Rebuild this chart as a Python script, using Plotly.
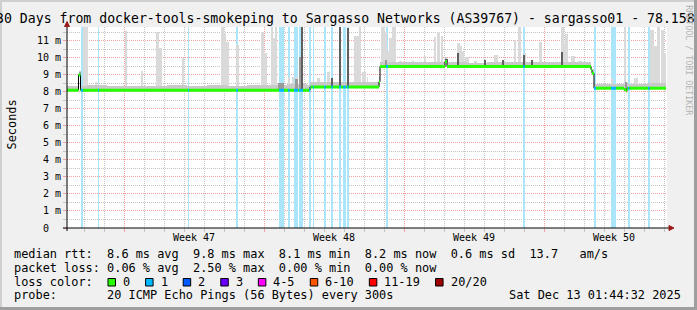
import bisect
import plotly.graph_objects as go

# ---------------- data (time = days since start of the 30-day window, values in ms) ----------------
week_starts = [2.865, 9.865, 16.865, 23.865]
week_centers = [6.365, 13.365, 20.365, 27.365]
week_labels = ["Week 47", "Week 48", "Week 49", "Week 50"]
first_midnight = 0.865

y_tick_vals = [0, 1, 2, 3, 4, 5, 6, 7, 8, 9, 10, 11]
y_tick_text = ["0\u00a0\u00a0", "1 m", "2 m", "3 m", "4 m", "5 m", "6 m", "7 m", "8 m", "9 m", "10 m", "11 m"]

# median rtt, step function
med_t = [0.0, 0.575, 0.675, 12.15, 15.60, 15.65, 18.90, 19.00, 26.20, 26.25, 26.35, 27.85, 27.95, 28.00]
med_v = [8.10, 9.00, 8.10, 8.29, 8.60, 9.49, 9.78, 9.49, 9.30, 9.10, 8.22, 8.14, 8.06, 8.22]
med_end = 29.95

# packet loss periods
loss_t0 = [0.70, 1.55, 6.05, 8.45, 10.60, 11.05, 11.35, 11.60, 12.10, 12.30, 12.85,
           13.225, 13.60, 13.815, 14.00, 15.95, 22.80, 26.35, 27.20, 28.05, 29.05]
loss_t1 = [0.80, 1.60, 6.10, 8.55, 10.85, 11.125, 11.55, 11.80, 12.175, 12.35, 12.925,
           13.30, 13.70, 13.94, 14.075, 16.05, 22.875, 26.45, 27.45, 28.115, 29.125]
loss_n = [1, 1, 1, 1, 1, 1, 1, 1, 1, 1, 1, 1, 1, 1, 1, 1, 1, 1, 1, 1, 1]

# typical smoke spread above the median, per day
smoke_day = [0.25, 0.30, 0.25, 0.28, 0.25, 0.30, 0.28, 0.30, 0.28, 0.30,
             0.32, 0.38, 0.30, 0.30, 0.32, 0.30, 0.30, 0.25, 0.25, 0.25,
             0.22, 0.25, 0.25, 0.25, 0.28, 0.30, 0.25, 0.25, 0.25, 0.28]

# outlier smoke (light)
spike_t0 = [0.80, 1.40, 2.875, 3.70, 4.45, 4.575, 5.725, 7.70, 7.825, 7.925, 8.45, 9.675, 9.85,
            10.175, 10.30, 10.40, 11.05, 11.25, 11.40, 12.50, 13.00, 14.35, 14.60, 14.75, 15.00,
            15.45, 15.70, 15.85, 15.975, 16.10, 16.25, 16.60, 17.25, 17.825, 18.325, 18.50, 18.675,
            19.50, 19.625, 19.75, 19.90, 20.35, 21.35, 22.35, 22.55, 22.85, 23.60, 23.875, 24.675,
            24.825, 24.90, 25.20, 25.525, 25.85, 27.225, 27.825, 28.35, 28.825, 29.15, 29.35, 29.50,
            29.675, 29.825]
spike_t1 = [1.025, 1.475, 2.975, 3.80, 4.575, 4.725, 5.85, 7.825, 7.925, 8.10, 8.575, 9.825, 9.975,
            10.30, 10.40, 10.50, 11.15, 11.35, 11.55, 12.65, 13.125, 14.60, 14.70, 14.95, 15.05,
            15.525, 15.85, 15.975, 16.10, 16.225, 16.45, 16.75, 17.35, 17.925, 18.425, 18.625, 18.80,
            19.625, 19.75, 19.825, 20.10, 20.50, 21.525, 22.45, 22.70, 22.95, 23.725, 23.95, 24.825,
            24.90, 25.025, 25.40, 25.725, 26.025, 27.30, 27.95, 28.525, 28.90, 29.35, 29.50, 29.625,
            29.825, 29.95]
spike_top = [12.0, 8.6, 11.6, 9.25, 11.5, 10.6, 10.0, 12.0, 11.4, 10.95, 10.75, 11.5, 10.3,
             12.0, 11.2, 12.0, 8.9, 8.9, 8.9, 8.8, 9.2, 11.3, 12.0, 9.2, 8.9,
             8.6, 12.0, 11.5, 10.4, 11.15, 12.0, 9.8, 9.8, 10.1, 11.25, 11.55, 11.3,
             10.85, 10.7, 10.4, 10.05, 9.8, 10.2, 11.05, 12.0, 10.3, 10.95, 9.7, 12.0,
             10.9, 11.4, 10.1, 9.8, 9.7, 8.8, 12.0, 8.8, 8.5, 11.65, 10.7, 12.0,
             11.65, 10.3]

# denser smoke (mid / dark shades)
dark_t0 = [0.575, 10.55, 11.40, 11.60, 11.70, 13.20, 13.60, 14.00, 15.90, 18.90, 19.525,
           20.85, 21.775, 22.80, 23.20, 24.675, 27.90]
dark_t1 = [0.675, 10.85, 11.55, 11.70, 11.80, 13.30, 13.70, 14.075, 16.00, 19.025, 19.60,
           20.95, 21.85, 22.875, 23.30, 24.775, 28.00]
dark_top = [9.2, 8.5, 8.75, 10.05, 12.0, 8.8, 12.0, 11.75, 9.9, 9.95, 10.27,
            9.9, 9.9, 10.2, 9.9, 10.35, 8.6]
dark_shade = ["mid", "mid", "mid", "mid", "dark", "dark", "dark", "dark", "mid", "dark", "dark",
              "dark", "dark", "dark", "dark", "dark", "mid"]

# legend / statistics
stat_line1 = "median rtt:  8.6 ms avg  9.8 ms max  8.1 ms min  8.2 ms now  0.6 ms sd  13.7   am/s"
stat_line2 = "packet loss: 0.06 % avg  2.50 % max  0.00 % min  0.00 % now"
stat_line3 = "loss color:"
stat_line4 = "probe:       20 ICMP Echo Pings (56 Bytes) every 300s"
stamp = "Sat Dec 13 01:44:32 2025"
loss_labels = ["0", "1", "2", "3", "4-5", "6-10", "11-19", "20/20"]
loss_colors = ["#26ff00", "#00b8ff", "#0059ff", "#6a00ff", "#ff00ff", "#ff5500", "#ff0000", "#a10000"]
title_text = "30 Days from docker-tools-smokeping to Sargasso Networks (AS39767) - sargasso01 - 78.158"

# ---------------- layout constants ----------------
W, H = 697, 310
PL, PR, PT, PB = 67, 667, 27, 228
YMAX = 11.82
XMAX = 30.0
MONO = "DejaVu Sans Mono"
BAND = "#abe5fa"


def px(x):
    return (x - PL) / (PR - PL)


def py(y):
    return (PB - y) / (PB - PT)


def nb(s):
    return s.replace(" ", "\u00a0")


def med_at(t):
    i = bisect.bisect_right(med_t, t) - 1
    return med_v[max(i, 0)]


def loss_at(t):
    for a, b, n in zip(loss_t0, loss_t1, loss_n):
        if a <= t < b:
            return n
    return 0


fig = go.Figure()

# loss background bands
fig.add_trace(go.Bar(
    x=[(a + b) / 2 for a, b in zip(loss_t0, loss_t1)],
    width=[b - a for a, b in zip(loss_t0, loss_t1)],
    y=[YMAX for _ in loss_t0], base=[0 for _ in loss_t0],
    marker=dict(color=BAND, line=dict(width=0)), hoverinfo="skip"))

# light outlier smoke
bx, bw, bb, bh = [], [], [], []
for a, b, top in zip(spike_t0, spike_t1, spike_top):
    m = med_at((a + b) / 2)
    bx.append((a + b) / 2); bw.append(b - a); bb.append(m); bh.append(top - m)
fig.add_trace(go.Bar(x=bx, width=bw, base=bb, y=bh,
                     marker=dict(color="#dadada", line=dict(width=0)), hoverinfo="skip"))

# baseline smoke (split at median steps)
bx, bw, bb, bh = [], [], [], []
for k, off in enumerate(smoke_day):
    a, b = float(k), min(k + 1.0, med_end)
    cuts = [a] + [t for t in med_t if a < t < b] + [b]
    for c0, c1 in zip(cuts[:-1], cuts[1:]):
        m = med_at((c0 + c1) / 2)
        bx.append((c0 + c1) / 2); bw.append(c1 - c0); bb.append(m); bh.append(off)
fig.add_trace(go.Bar(x=bx, width=bw, base=bb, y=bh,
                     marker=dict(color="#c9c9c9", line=dict(width=0)), hoverinfo="skip"))

# mid / dark smoke
for shade, col in (("mid", "#9a9a9a"), ("dark", "#5f5f5f")):
    bx, bw, bb, bh = [], [], [], []
    for a, b, top, s in zip(dark_t0, dark_t1, dark_top, dark_shade):
        if s != shade:
            continue
        m = med_at((a + b) / 2)
        bx.append((a + b) / 2); bw.append(b - a); bb.append(m); bh.append(top - m)
    fig.add_trace(go.Bar(x=bx, width=bw, base=bb, y=bh,
                         marker=dict(color=col, line=dict(width=0)), hoverinfo="skip"))

# thin black median (shows the steps)
fig.add_trace(go.Scatter(x=med_t + [med_end], y=med_v + [med_v[-1]], mode="lines",
                         line=dict(color="#000000", width=1, shape="hv"), hoverinfo="skip"))

# thick loss-coloured median
edges = sorted(set(med_t + loss_t0 + loss_t1 + [med_end]))
edges = [e for e in edges if e <= med_end]
segs = {}
for a, b in zip(edges[:-1], edges[1:]):
    mid = (a + b) / 2
    n = loss_at(mid)
    xs, ys = segs.setdefault(n, ([], []))
    v = med_at(mid)
    xs += [a, b, None]
    ys += [v, v, None]
for n, (xs, ys) in segs.items():
    fig.add_trace(go.Scatter(x=xs, y=ys, mode="lines",
                             line=dict(color=loss_colors[min(n, 7)], width=3), hoverinfo="skip"))

grid_red = "#f7a0a0"
grid_gray = "#c4c4c4"
fig.update_layout(
    width=W, height=H, margin=dict(l=PL, r=W - PR, t=PT, b=H - PB, pad=0),
    paper_bgcolor="#f0f0f0", plot_bgcolor="#ffffff", showlegend=False,
    barmode="overlay", bargap=0,
    font=dict(family=MONO, color="#000000"),
    xaxis=dict(range=[0, XMAX], showline=False, zeroline=False,
               tickmode="array", tickvals=week_starts, showticklabels=False,
               showgrid=True, gridcolor=grid_red, griddash="1px,1px", gridwidth=1,
               ticks="outside", ticklen=3, tickcolor=grid_red,
               minor=dict(tickmode="linear", tick0=first_midnight, dtick=1, showgrid=True,
                          gridcolor=grid_gray, griddash="1px,1px", gridwidth=1,
                          ticks="outside", ticklen=3, tickcolor=grid_gray),
               fixedrange=True),
    yaxis=dict(range=[0, YMAX], showline=False, zeroline=False,
               tickmode="array", tickvals=y_tick_vals, ticktext=y_tick_text,
               tickfont=dict(family=MONO, size=10, color="#000000"),
               showgrid=True, gridcolor=grid_red, griddash="1px,1px", gridwidth=1,
               ticks="outside", ticklen=3, tickcolor=grid_red,
               minor=dict(tickmode="linear", tick0=0, dtick=0.5, showgrid=True,
                          gridcolor=grid_gray, griddash="1px,1px", gridwidth=1,
                          ticks="outside", ticklen=3, tickcolor=grid_gray),
               fixedrange=True),
)

ann = []


def text(xp, yp, s, size, xanchor="left", angle=0, color="#000000", xref="paper"):
    ann.append(dict(x=xp, y=yp, xref=xref, yref="paper", text=nb(s), showarrow=False,
                    xanchor=xanchor, yanchor="middle", textangle=angle,
                    borderpad=0, borderwidth=0,
                    font=dict(family=MONO, size=size, color=color)))


LS = 11.9          # legend font size
CW = 7.16          # legend character advance (px)
X0 = 14.2          # legend text left (px)

text(px(-4.5), py(18.4), title_text, 13.2)
text(px(11.5), py(125), "Seconds", LS, xanchor="center", angle=-90)
text(px(688.7), py(60), "RRDTOOL / TOBI OETIKER", 8.3, xanchor="center", angle=90, color="#b4b4b4")
for c, lab in zip(week_centers, week_labels):
    text(c, py(237.5), lab, 10, xanchor="center", xref="x")
text(px(X0), py(254.2), stat_line1, LS)
text(px(X0), py(267.6), stat_line2, LS)
text(px(X0), py(281.9), stat_line3, LS)
text(px(X0), py(295.2), stat_line4, LS)
text(px(681), py(295.2), stamp, LS, xanchor="right")

shapes = []
pos = 13.1
for lab, col in zip(loss_labels, loss_colors):
    sx = X0 + pos * CW
    shapes.append(dict(type="rect", xref="paper", yref="paper",
                       x0=px(sx), x1=px(sx + 7.5), y0=py(286), y1=py(278.5),
                       fillcolor=col, line=dict(color="#000000", width=1), layer="above"))
    lpos = pos + 2.1
    text(px(X0 + lpos * CW), py(281.9), lab, LS)
    pos = lpos + len(lab) + 2.15

# axes with arrows
shapes.append(dict(type="line", xref="paper", yref="paper", x0=px(63), x1=px(670), y0=py(228), y1=py(228),
                   line=dict(color="#000000", width=1), layer="above"))
shapes.append(dict(type="line", xref="paper", yref="paper", x0=px(67), x1=px(67), y0=py(231), y1=py(25),
                   line=dict(color="#000000", width=1), layer="above"))
shapes.append(dict(type="path", xref="paper", yref="paper",
                   path=f"M {px(669)},{py(225.5)} L {px(674)},{py(228)} L {px(669)},{py(230.5)} Z",
                   fillcolor="#9b1b1b", line=dict(color="#9b1b1b", width=1), layer="above"))
shapes.append(dict(type="path", xref="paper", yref="paper",
                   path=f"M {px(64.5)},{py(26.5)} L {px(67)},{py(21.5)} L {px(69.5)},{py(26.5)} Z",
                   fillcolor="#9b1b1b", line=dict(color="#9b1b1b", width=1), layer="above"))

# 3D frame
shapes.append(dict(type="rect", xref="paper", yref="paper", x0=px(0), x1=px(697), y0=py(0), y1=py(2),
                   fillcolor="#cfcfcf", line=dict(width=0), layer="above"))
shapes.append(dict(type="rect", xref="paper", yref="paper", x0=px(0), x1=px(2), y0=py(0), y1=py(310),
                   fillcolor="#cfcfcf", line=dict(width=0), layer="above"))
shapes.append(dict(type="rect", xref="paper", yref="paper", x0=px(694), x1=px(697), y0=py(0), y1=py(310),
                   fillcolor="#9e9e9e", line=dict(width=0), layer="above"))
shapes.append(dict(type="rect", xref="paper", yref="paper", x0=px(0), x1=px(697), y0=py(307), y1=py(310),
                   fillcolor="#9e9e9e", line=dict(width=0), layer="above"))

fig.update_layout(annotations=ann, shapes=shapes)
fig.write_html("out.html")
